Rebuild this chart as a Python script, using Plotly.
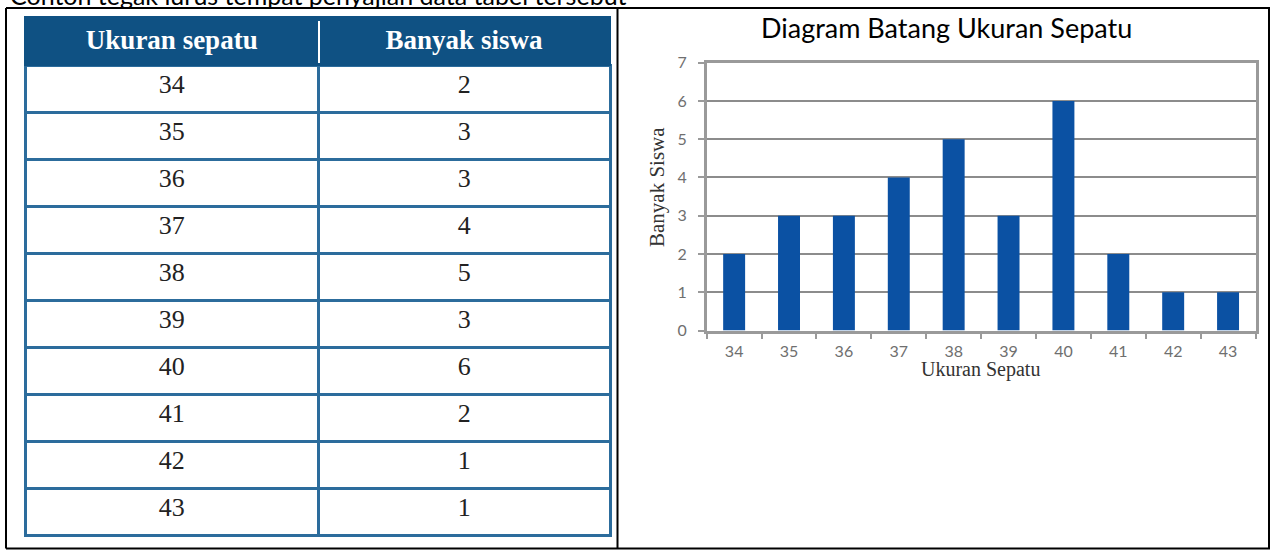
import plotly.graph_objects as go

# ---- data ----
shoe_sizes = ["34", "35", "36", "37", "38", "39", "40", "41", "42", "43"]
student_counts = [2, 3, 3, 4, 5, 3, 6, 2, 1, 1]
table_headers = ["Ukuran sepatu", "Banyak siswa"]
chart_title = "Diagram Batang Ukuran Sepatu"
x_title = "Ukuran Sepatu"
y_title = "Banyak Siswa"
y_ticks = [0, 1, 2, 3, 4, 5, 6, 7]

W, H = 1272, 550


def px(x):
    return x / W


def py(y):
    return 1 - y / H


fig = go.Figure()

# ---- table ----
fig.add_trace(go.Table(
    domain=dict(x=[px(25), px(611)], y=[py(538), py(17)]),
    columnwidth=[294, 292],
    header=dict(
        values=["<b>%s</b>" % h for h in table_headers],
        fill_color="#0f5183",
        line=dict(color=["#0f5183", "#0f5183"], width=2),
        font=dict(family="Liberation Serif", size=27, color="white"),
        align="center",
        height=48,
    ),
    cells=dict(
        values=[shoe_sizes, [str(v) for v in student_counts]],
        fill_color="white",
        line=dict(color="#2c6c9c", width=3),
        font=dict(family="Liberation Serif", size=26, color="#222222"),
        align="center",
        height=47,
    ),
))

# ---- bar chart ----
fig.add_trace(go.Bar(
    x=shoe_sizes,
    y=student_counts,
    width=0.4,
    marker=dict(color="#0b51a3", line=dict(width=0)),
    xaxis="x",
    yaxis="y",
    showlegend=False,
))

fig.update_layout(
    width=W,
    height=H,
    margin=dict(l=0, r=0, t=0, b=0, autoexpand=False),
    paper_bgcolor="white",
    plot_bgcolor="white",
    showlegend=False,
    xaxis=dict(
        domain=[px(706.7), px(1255.5)],
        type="category",
        tickson="boundaries",
        ticks="outside",
        ticklen=6,
        tickwidth=2,
        tickcolor="#9a9a9a",
        showline=True,
        linecolor="#9a9a9a",
        linewidth=2.5,
        mirror=True,
        showgrid=False,
        automargin=False,
        tickfont=dict(family="Lato", size=16, color="#6f6f6f"),
        ticklabelstandoff=5,
        fixedrange=True,
    ),
    yaxis=dict(
        domain=[py(330.5), py(62.7)],
        range=[0, 7],
        tickvals=y_ticks,
        ticks="outside",
        ticklen=6,
        tickwidth=2,
        tickcolor="#9a9a9a",
        showline=True,
        linecolor="#9a9a9a",
        linewidth=2.5,
        mirror=True,
        showgrid=True,
        gridcolor="#8c8c8c",
        gridwidth=2,
        zeroline=False,
        automargin=False,
        tickfont=dict(family="Lato", size=16, color="#6f6f6f"),
        ticklabelstandoff=8,
        fixedrange=True,
    ),
)

annotations = [
    dict(text=chart_title, x=px(946), y=py(28), xref="paper", yref="paper",
         xanchor="center", yanchor="middle", showarrow=False,
         font=dict(family="Lato", size=27, color="black")),
    dict(text=x_title, x=px(980), y=py(369), xref="paper", yref="paper",
         xanchor="center", yanchor="middle", showarrow=False,
         font=dict(family="Liberation Serif", size=20, color="#333333")),
    dict(text=y_title, x=px(657), y=py(187), xref="paper", yref="paper",
         xanchor="center", yanchor="middle", showarrow=False, textangle=-90,
         font=dict(family="Liberation Serif", size=21, color="#333333")),
    dict(text="Contoh tegak lurus tempat penyajian data tabel tersebut", x=px(8), y=py(-5),
         xref="paper", yref="paper", xanchor="left", yanchor="middle", showarrow=False,
         font=dict(family="Lato", size=25, color="black")),
]
fig.update_layout(annotations=annotations)

# ---- outer frame ----
frame = dict(type="line", xref="paper", yref="paper", line=dict(color="black", width=2))
shapes = [
    dict(frame, x0=px(6), x1=px(1270), y0=py(8), y1=py(8)),
    dict(frame, x0=px(6), x1=px(1270), y0=py(548.5), y1=py(548.5)),
    dict(frame, x0=px(6), x1=px(6), y0=py(8), y1=py(548.5)),
    dict(frame, x0=px(617.5), x1=px(617.5), y0=py(8), y1=py(548.5)),
    dict(frame, x0=px(1269), x1=px(1269), y0=py(8), y1=py(548.5)),
    # white divider line inside table header
    dict(type="line", xref="paper", yref="paper", x0=px(319), x1=px(319),
         y0=py(21), y1=py(63), line=dict(color="white", width=2)),
]
fig.update_layout(shapes=shapes)

fig.write_html(
    "out.html",
    config={"responsive": False, "displayModeBar": False},
    post_script="document.body.style.margin='0';document.body.style.overflow='hidden';",
)
